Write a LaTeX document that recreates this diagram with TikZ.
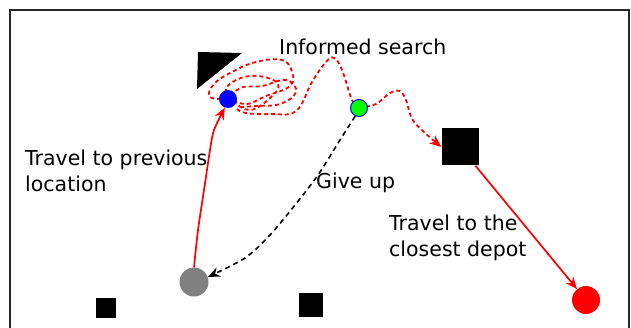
\documentclass[tikz,border=0pt]{standalone}
\usepackage{fontspec}
\setmainfont{DejaVu Sans}
\usetikzlibrary{arrows.meta,backgrounds}
\tikzset{>={Stealth[length=12pt,width=10pt,inset=4pt]}}
\definecolor{stone}{RGB}{128,128,128}
\tikzset{%
    robot/.style={circle,inner sep=0pt,minimum size=#1},
    spot/.style={fill=black,inner sep=0pt,minimum size=#1},
    note/.style={align=left,inner sep=0pt,anchor=west,
        font=\fontsize{20.5}{26.5}\selectfont},
    search/.style={red,line width=1.8pt,dash pattern=on 4pt off 3pt},
    travel/.style={->,red,line width=1.7pt},
    giveup/.style={->,black,line width=1.6pt,dash pattern=on 5pt off 4pt}
}

\begin{document}
\begin{tikzpicture}[x=1pt,y=-1pt]
\useasboundingbox (0,0) rectangle (631,328);
\draw[line width=1.5pt,black!85] (10,328) -- (10,10) -- (629,10) -- (629,328);

\node[robot=18pt,fill=blue] (prev) at (228,99) {};
\node[robot=17pt,fill=green,draw=blue,line width=1pt] (fail) at (359,108) {};
\node[spot=37pt] (task) at (460,147) {};
\node[robot=28pt,fill=red] (depot) at (586,300) {};
\node[robot=29pt,fill=stone] (start) at (194,282) {};
\node[spot=20pt] (left) at (106,308) {};
\node[spot=24pt] (mid) at (311,305) {};
\fill (198,52) -- (242,53) -- (197,89) -- cycle;

% search paths go behind the robots
\begin{scope}[on background layer]
\draw[search] plot[smooth,tension=0.7] coordinates {(prev) (210,97) (214,84) (232,72)
    (256,62) (282,60) (292,72) (290,86) (266,96) (244,104) (226,92) (236,80) (258,76)
    (278,84) (270,98) (250,110) (234,100) (240,88) (262,86) (286,80) (296,92) (280,104)
    (256,106) (238,108) (246,113) (272,114) (296,111) (312,82) (326,62) (334,58)
    (342,70) (352,100) (fail)};
\draw[search,->] plot[smooth] coordinates {(fail) (376,104) (390,93) (400,91)
    (406,100) (414,122) (task.west)};
\end{scope}

\draw[travel] plot[smooth] coordinates {(start.north) (198,230) (204,190) (210,150)
    (214,130) (prev.-110)};
\draw[giveup] plot[smooth] coordinates {(fail.-115) (340,140) (318,175) (295,205)
    (270,235) (245,258) (start.20)};
\draw[travel] (task) -- (depot);

\node[note] (inform) at (279,47) {Informed search};
\node[note] (back) at (25,171) {Travel to previous\\location};
\node[note] (quit) at (316,183) {Give up};
\node[note] (close) at (389,238) {Travel to the\\closest depot};
\end{tikzpicture}
\end{document}
